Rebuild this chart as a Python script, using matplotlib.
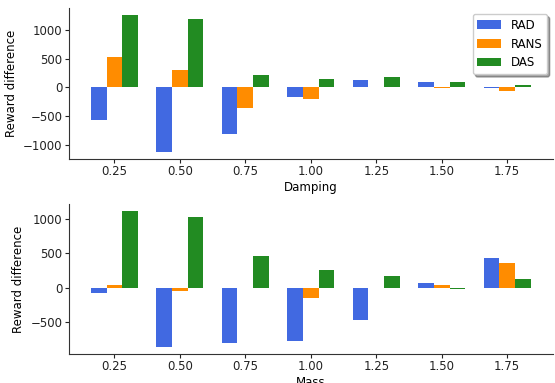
import numpy as np
import matplotlib
matplotlib.use("Agg")
import matplotlib.pyplot as plt

x_vals = [0.25, 0.50, 0.75, 1.00, 1.25, 1.50, 1.75]
series = ["RAD", "RANS", "DAS"]
colors = ["royalblue", "darkorange", "forestgreen"]

damping_rad = [-563, -1115, -805, -172, 121, 86, -10]
damping_rans = [534, 310, -357, -201, 10, -5, -64]
damping_das = [1259, 1190, 224, 138, 190, 103, 34]

mass_rad = [-71, -857, -800, -771, -471, 71, 429]
mass_rans = [43, -43, -5, -152, -5, 43, 357]
mass_das = [1114, 1029, 457, 257, 171, -10, 129]

plt.rcParams["font.size"] = 8.5
plt.rcParams["font.family"] = "DejaVu Sans"

fig = plt.figure(figsize=(5.55, 3.83), dpi=100)
ax1 = fig.add_axes([0.124, 0.586, 0.872, 0.393])
ax2 = fig.add_axes([0.124, 0.076, 0.872, 0.391])

width = 0.06
x = np.array(x_vals)
for ax, data, xlabel in [(ax1, [damping_rad, damping_rans, damping_das], "Damping"),
                         (ax2, [mass_rad, mass_rans, mass_das], "Mass")]:
    for i, (vals, name, c) in enumerate(zip(data, series, colors)):
        ax.bar(x + (i - 1) * width, vals, width, color=c, label=name)
    ax.set_xticks(x_vals)
    ax.set_xticklabels([f"{v:.2f}" for v in x_vals])
    ax.set_xlabel(xlabel, labelpad=2)
    ax.set_ylabel("Reward difference", labelpad=4)
    ax.spines["top"].set_visible(False)
    ax.spines["right"].set_visible(False)
    for s in ["left", "bottom"]:
        ax.spines[s].set_color("#333333")
    ax.tick_params(colors="#222222", length=3, pad=1.5)

ax1.legend(loc="upper right", shadow=True, fancybox=True, fontsize=8.5)

fig.savefig("out.png", dpi=100)
